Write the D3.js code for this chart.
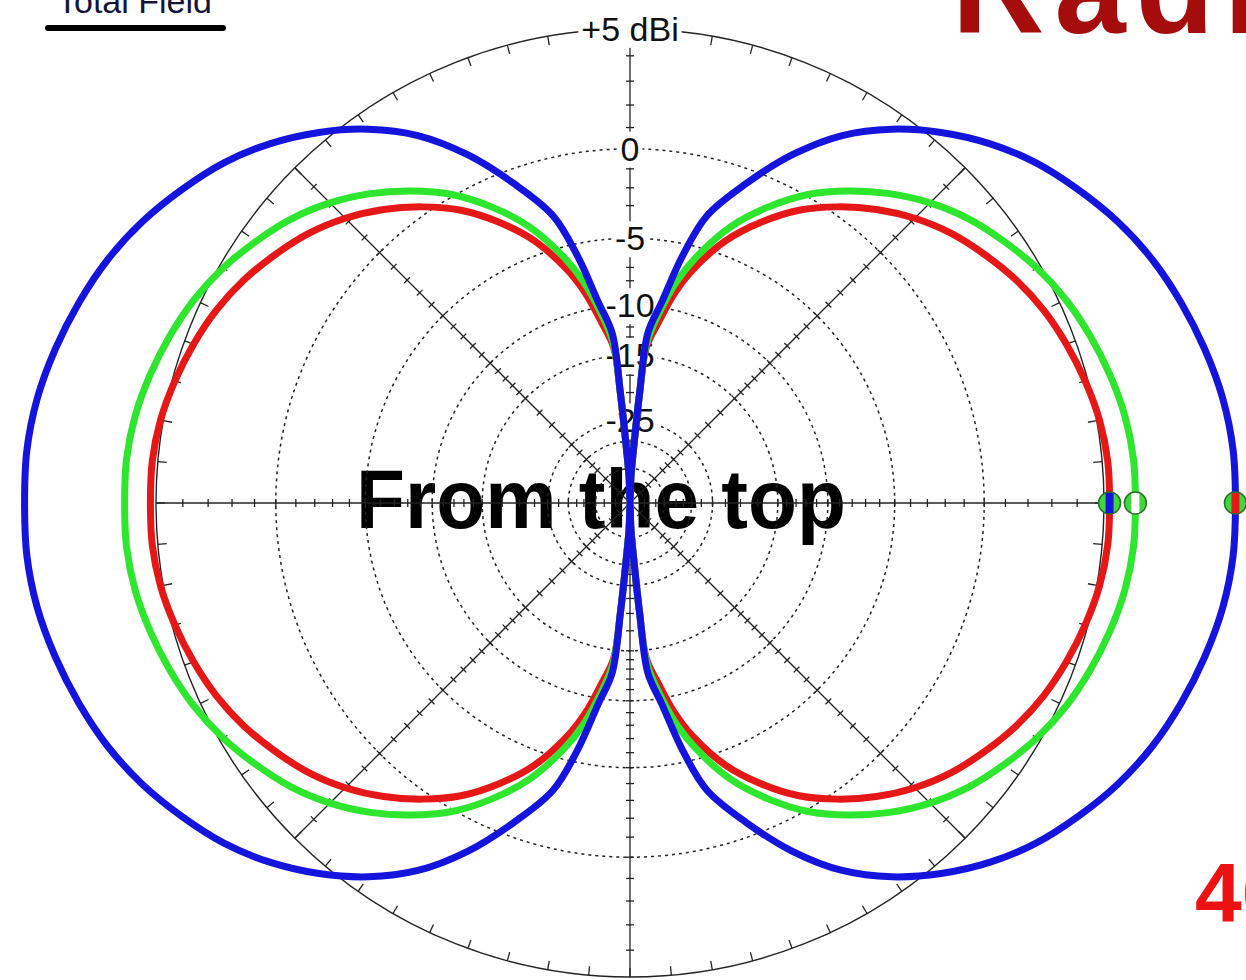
<!DOCTYPE html>
<meta charset="utf-8">
<script src="https://d3js.org/d3.v7.min.js"></script>
<style>
  body { margin: 0; background: #fff; }
  svg { display: block; }
</style>
<body>
<div id="chart"></div>
<script>
const width = 1246, height = 980;
const cx = 630, cy = 503, R = 474;

// azimuth in degrees (0 = right, counter-clockwise), first quadrant only,
// the pattern is mirrored into the other three
const angles = [0, 5, 10, 15, 20, 25, 30, 35, 40, 45, 50, 55, 60, 65, 70, 75, 78, 81, 84, 85, 86, 88, 90];
const redGain   = [5.2, 5.2, 5.1, 4.9, 4.65, 4.35, 3.95, 3.45, 2.9, 2.2, 1.35, 0.35, -0.8, -2.3, -4.1, -6.6, -8.6, -11.3, -14.0, -20, -30, -45, -99];
const greenGain = [6.1, 6.1, 6.0, 5.8, 5.55, 5.25, 4.85, 4.35, 3.8, 3.1, 2.25, 1.25, 0.1, -1.4, -3.2, -5.7, -7.6, -10.2, -13.5, -20, -30, -45, -99];
const blueGain  = [9.2, 9.2, 9.1, 8.9, 8.65, 8.35, 7.95, 7.45, 6.9, 6.2, 5.35, 4.35, 3.1, 1.4, -0.7, -3.0, -5.8, -9.5, -12.5, -20, -30, -45, -99];

const traces = [
  { name: "red",   color: "#e61717", gain: redGain,   stripe: "#1414dc" },
  { name: "green", color: "#2ee62e", gain: greenGain, stripe: "#ffffff" },
  { name: "blue",  color: "#1414dc", gain: blueGain,  stripe: "#e61717" }
];

// grid
const maxDb = 5;
const ringDb = [0, -5, -10, -15, -25, -30, -40];
const labelDb = [0, -5, -10, -15, -25];
const labelText = ["0", "-5", "-10", "-15", "-25"];
const tickDb = [4, 3, 2, 1, 0, -1, -2, -3, -4, -5, -6, -7, -8, -9, -10, -11, -12, -13, -14, -15,
                -17.5, -20, -22.5, -25, -27.5, -30, -32.5, -35, -40, -45, -55];
const spokeAngles = [0, 45, 90, 135];

// ARRL style log scale: radius goes as field strength ^ 0.506
const fieldScale = d3.scalePow()
  .exponent(0.5061)
  .domain([0, Math.pow(10, maxDb / 20)])
  .range([0, R]);
const r = db => fieldScale(Math.pow(10, db / 20));
const rad = deg => deg * Math.PI / 180;

const svg = d3.select("#chart")
  .append("svg")
    .attr("width", width)
    .attr("height", height);

// Top-left legend
svg.append("text")
  .attr("x", 57).attr("y", 13)
  .attr("font-family", "Arial, 'Liberation Sans', sans-serif")
  .attr("font-size", 34)
  .attr("fill", "#14143a")
  .text("Total Field");
svg.append("line")
  .attr("x1", 48).attr("x2", 223).attr("y1", 28).attr("y2", 28)
  .attr("stroke", "#000").attr("stroke-width", 6).attr("stroke-linecap", "round");

// Title pieces cut by the frame
svg.append("text")
  .attr("x", 952).attr("y", 33)
  .attr("font-family", "Arial, 'Liberation Sans', sans-serif")
  .attr("font-weight", "bold")
  .attr("font-size", 128)
  .attr("letter-spacing", 10)
  .attr("fill", "#a50d0d")
  .text("Radiation");
svg.append("text")
  .attr("x", 1195).attr("y", 922)
  .attr("font-family", "Arial, 'Liberation Sans', sans-serif")
  .attr("font-weight", "bold")
  .attr("font-size", 84)
  .attr("fill", "#ee1111")
  .text("40");

const g = svg.append("g").attr("transform", `translate(${cx},${cy})`);

// Big caption under the grid
g.append("text")
  .attr("x", 601 - cx).attr("y", 528 - cy)
  .attr("text-anchor", "middle")
  .attr("font-family", "Arial, 'Liberation Sans', sans-serif")
  .attr("font-weight", "bold")
  .attr("font-size", 84)
  .attr("textLength", 490)
  .attr("lengthAdjust", "spacingAndGlyphs")
  .attr("fill", "#000")
  .text("From the top");

// dashed rings
g.selectAll("circle.ring")
  .data(ringDb)
  .join("circle")
    .attr("class", "ring")
    .attr("r", d => r(d))
    .attr("fill", "none")
    .attr("stroke", "#222")
    .attr("stroke-width", 1.5)
    .attr("stroke-dasharray", "3,4");

// outer circle
g.append("circle")
  .attr("r", r(maxDb))
  .attr("fill", "none")
  .attr("stroke", "#222")
  .attr("stroke-width", 1.4);

// outer circle ticks, every 5 degrees, pointing inward
g.selectAll("line.otick")
  .data(d3.range(0, 360, 5))
  .join("line")
    .attr("class", "otick")
    .attr("x1", d => R * Math.cos(rad(d)))
    .attr("y1", d => -R * Math.sin(rad(d)))
    .attr("x2", d => (R - 9) * Math.cos(rad(d)))
    .attr("y2", d => -(R - 9) * Math.sin(rad(d)))
    .attr("stroke", "#222")
    .attr("stroke-width", 1.3);

// spokes
g.selectAll("line.spoke")
  .data(spokeAngles)
  .join("line")
    .attr("class", "spoke")
    .attr("x1", d => R * Math.cos(rad(d)))
    .attr("y1", d => -R * Math.sin(rad(d)))
    .attr("x2", d => -R * Math.cos(rad(d)))
    .attr("y2", d => R * Math.sin(rad(d)))
    .attr("stroke", "#222")
    .attr("stroke-width", 1.3);

// cross ticks along the spokes
const spokeTicks = [];
d3.range(0, 360, 45).forEach(a => tickDb.forEach(db => spokeTicks.push({ a, db })));
g.selectAll("line.stick")
  .data(spokeTicks)
  .join("line")
    .attr("class", "stick")
    .each(function (d) {
      const rr = r(d.db), t = rad(d.a), h = 4;
      const px = rr * Math.cos(t), py = -rr * Math.sin(t);
      const nx = -Math.sin(t), ny = -Math.cos(t);
      d3.select(this)
        .attr("x1", px - h * nx).attr("y1", py - h * ny)
        .attr("x2", px + h * nx).attr("y2", py + h * ny);
    })
    .attr("stroke", "#222")
    .attr("stroke-width", 1.3);

// ring labels with white boxes
const labels = [{ text: "+5 dBi", db: maxDb }].concat(labelDb.map((d, i) => ({ text: labelText[i], db: d })));
const lab = g.selectAll("g.lab")
  .data(labels)
  .join("g")
    .attr("class", "lab")
    .attr("transform", d => `translate(0,${-r(d.db)})`);
lab.append("rect").attr("fill", "#fff");
lab.append("text")
  .attr("text-anchor", "middle")
  .attr("dy", "0.35em")
  .attr("font-family", "Arial, 'Liberation Sans', sans-serif")
  .attr("font-size", 34)
  .attr("fill", "#111")
  .text(d => d.text);
lab.each(function () {
  const b = d3.select(this).select("text").node().getBBox();
  d3.select(this).select("rect")
    .attr("x", b.x - 3).attr("y", b.y + 2)
    .attr("width", b.width + 6).attr("height", b.height - 2);
});

// pattern traces, mirrored to all four quadrants
function fullPattern(gain) {
  const pts = [];
  angles.forEach((a, i) => pts.push({ a, v: gain[i] }));
  for (let i = angles.length - 2; i >= 0; i--) pts.push({ a: 180 - angles[i], v: gain[i] });
  for (let i = 1; i < angles.length; i++) pts.push({ a: 180 + angles[i], v: gain[i] });
  for (let i = angles.length - 2; i > 0; i--) pts.push({ a: 360 - angles[i], v: gain[i] });
  return pts;
}

const radial = d3.lineRadial()
  .angle(d => rad(90 - d.a))
  .radius(d => r(d.v))
  .curve(d3.curveCatmullRomClosed.alpha(0.5));

g.selectAll("path.trace")
  .data(traces)
  .join("path")
    .attr("class", "trace")
    .attr("d", d => radial(fullPattern(d.gain)))
    .attr("fill", "none")
    .attr("stroke", d => d.color)
    .attr("stroke-width", 7)
    .attr("stroke-linejoin", "round");

// max markers on the 0 degree direction
const mk = g.selectAll("g.marker")
  .data(traces)
  .join("g")
    .attr("class", "marker")
    .attr("transform", d => `translate(${r(d.gain[0])},0)`);
mk.append("clipPath")
  .attr("id", (d, i) => "mclip" + i)
  .append("circle").attr("r", 11);
mk.append("circle").attr("r", 11).attr("fill", "#3fd63f");
mk.append("rect")
  .attr("x", -4).attr("y", -12).attr("width", 8).attr("height", 24)
  .attr("fill", d => d.stripe)
  .attr("clip-path", (d, i) => `url(#mclip${i})`);
mk.append("circle").attr("r", 11)
  .attr("fill", "none").attr("stroke", "#2a6e2a").attr("stroke-width", 1.5);
</script>
</body>
